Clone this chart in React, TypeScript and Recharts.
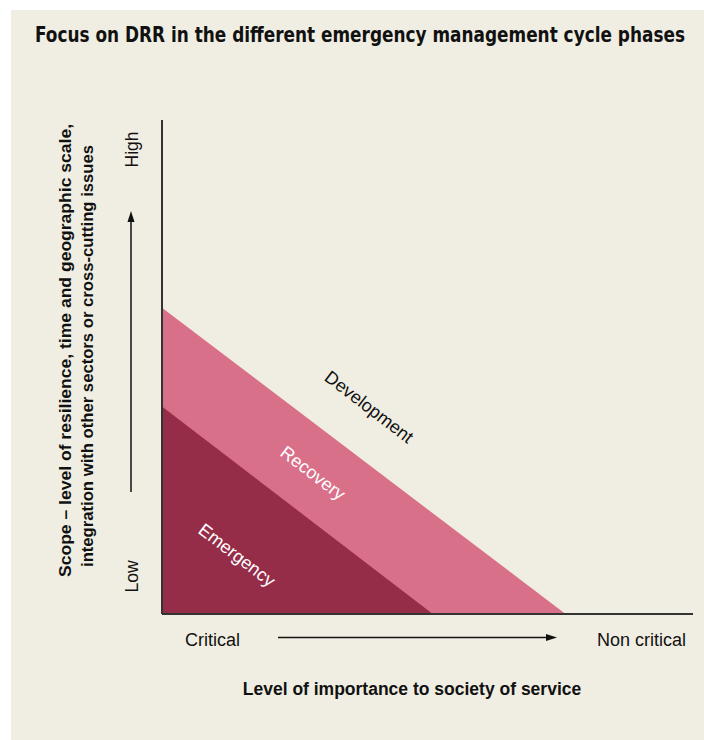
import { ComposedChart, Area, XAxis, YAxis, ReferenceDot } from 'recharts';

// outer edges of the two coloured bands (x = importance, y = scope, both 0-100)
const recoveryEdge = [
  { x: 0, y: 62 },
  { x: 76, y: 0 },
];
const emergencyEdge = [
  { x: 0, y: 42 },
  { x: 51, y: 0 },
];

const phaseNames = ['Emergency', 'Recovery', 'Development'];
const phaseAnchors = [
  { x: 14.1, y: 11.9 },
  { x: 28.4, y: 28.5 },
  { x: 39, y: 41.9 },
];
const phaseColors = ['#ffffff', '#ffffff', '#111111'];

const yLabelLines = [
  'Scope – level of resilience, time and geographic scale,',
  'integration with other sectors or cross-cutting issues',
];
const xTicks = ['Critical', 'Non critical'];
const yTicks = ['Low', 'High'];

const BG = '#f0eee2';
const SANS = "'Liberation Sans', Arial, sans-serif";
const NARROW = "'Liberation Sans Narrow', 'DejaVu Sans Condensed', 'Arial Narrow', sans-serif";
const SLOPE_ANGLE = 37.5;

const PhaseLabel = ({ viewBox, text, color }: any) => {
  const cx = viewBox.x + (viewBox.width || 0) / 2;
  const cy = viewBox.y + (viewBox.height || 0) / 2;
  return (
    <text
      x={cx}
      y={cy}
      fill={color}
      fontSize={18}
      fontFamily={SANS}
      textAnchor="middle"
      dominantBaseline="central"
      transform={`rotate(${SLOPE_ANGLE}, ${cx}, ${cy})`}
    >
      {text}
    </text>
  );
};

export default function App() {
  return (
    <div style={{ position: 'absolute', left: 0, top: 0, width: 704, height: 740, background: '#fff' }}>
      <div style={{ position: 'absolute', left: 11, top: 10, width: 693, height: 730, background: BG }}>
        <ComposedChart width={693} height={730} margin={{ top: 110, right: 11, bottom: 125, left: 150 }}>
          <XAxis
            type="number"
            dataKey="x"
            domain={[0, 100]}
            height={1}
            tick={false}
            tickLine={false}
            axisLine={{ stroke: '#333', strokeWidth: 2 }}
          />
          <YAxis
            type="number"
            dataKey="y"
            domain={[0, 100]}
            width={1}
            tick={false}
            tickLine={false}
            axisLine={{ stroke: '#333', strokeWidth: 2 }}
          />
          <Area
            data={recoveryEdge}
            dataKey="y"
            type="linear"
            fill="#d9708a"
            fillOpacity={1}
            stroke="none"
            isAnimationActive={false}
          />
          <Area
            data={emergencyEdge}
            dataKey="y"
            type="linear"
            fill="#962d48"
            fillOpacity={1}
            stroke="none"
            isAnimationActive={false}
          />
          {phaseNames.map((name, i) => (
            <ReferenceDot
              key={name}
              x={phaseAnchors[i].x}
              y={phaseAnchors[i].y}
              r={0}
              fill="none"
              stroke="none"
              label={(p: any) => <PhaseLabel {...p} text={name} color={phaseColors[i]} />}
            />
          ))}
        </ComposedChart>
      </div>

      <svg width={704} height={740} style={{ position: 'absolute', left: 0, top: 0, pointerEvents: 'none' }}>
        <text
          x={35}
          y={42}
          fontSize={21}
          fontWeight="bold"
          fontFamily={NARROW}
          textLength={650}
          lengthAdjust="spacingAndGlyphs"
          fill="#111"
        >
          Focus on DRR in the different emergency management cycle phases
        </text>

        {/* y axis title */}
        <text
          transform="translate(71, 350.5) rotate(-90)"
          textAnchor="middle"
          fontSize={17}
          fontWeight="bold"
          fontFamily={SANS}
          textLength={453}
          lengthAdjust="spacingAndGlyphs"
          fill="#111"
        >
          {yLabelLines[0]}
        </text>
        <text
          transform="translate(93, 356) rotate(-90)"
          textAnchor="middle"
          fontSize={17}
          fontWeight="bold"
          fontFamily={SANS}
          textLength={422}
          lengthAdjust="spacingAndGlyphs"
          fill="#111"
        >
          {yLabelLines[1]}
        </text>

        {/* Low / High */}
        <text transform="translate(138, 576.5) rotate(-90)" textAnchor="middle" fontSize={17.5} fontFamily={SANS} fill="#111">
          {yTicks[0]}
        </text>
        <text transform="translate(138, 149.5) rotate(-90)" textAnchor="middle" fontSize={17.5} fontFamily={SANS} fill="#111">
          {yTicks[1]}
        </text>
        <line x1={131} y1={492} x2={131} y2={220} stroke="#111" strokeWidth={1.5} />
        <polygon points="131,211 127.5,222 134.5,222" fill="#111" />

        {/* Critical / Non critical */}
        <text x={185} y={646} fontSize={18} fontFamily={SANS} fill="#111">
          {xTicks[0]}
        </text>
        <text x={686} y={646} textAnchor="end" fontSize={18} fontFamily={SANS} fill="#111">
          {xTicks[1]}
        </text>
        <line x1={278} y1={637.5} x2={548} y2={637.5} stroke="#111" strokeWidth={1.5} />
        <polygon points="557,637.5 546,634 546,641" fill="#111" />

        <text x={412} y={695} textAnchor="middle" fontSize={17.5} fontWeight="bold" fontFamily={SANS} fill="#111">
          Level of importance to society of service
        </text>
      </svg>
    </div>
  );
}
